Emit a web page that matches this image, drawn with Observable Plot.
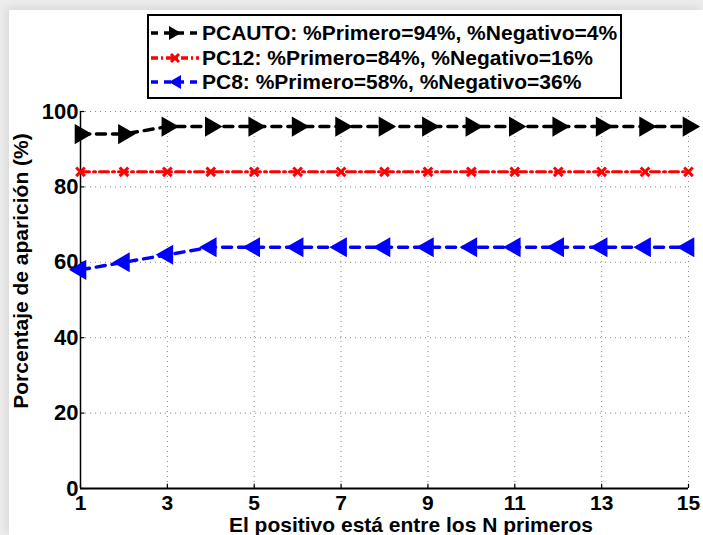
<!DOCTYPE html>
<html><head><meta charset="utf-8">
<script src="https://cdn.jsdelivr.net/npm/d3@7"></script>
<script src="https://cdn.jsdelivr.net/npm/@observablehq/plot@0.6"></script>
<style>
html,body{margin:0;padding:0;}
body{width:703px;height:535px;background:#ececec;position:relative;overflow:hidden;font-family:"Liberation Sans",Arial,sans-serif;}
#card{position:absolute;left:9px;top:10px;width:694px;height:525px;background:#fff;box-shadow:-3px -3px 8px rgba(0,0,0,0.08);}
#chart{position:absolute;left:0;top:0;}
#legend{position:absolute;left:147px;top:14px;width:471px;height:81px;border:2px solid #000;background:#fff;font-weight:bold;font-size:21px;}
.row{position:absolute;left:0;width:471px;height:24px;}
.row svg{position:absolute;left:1px;top:2px;}
.row span{position:absolute;left:53px;top:0;line-height:24px;white-space:nowrap;}
.ttl{position:absolute;font-weight:bold;font-size:21px;white-space:nowrap;line-height:24px;color:#000;}
#xt{left:411px;top:517px;line-height:16px;transform:translateX(-50%);}
#yt{left:21px;top:271px;transform:translate(-50%,-50%) rotate(-90deg);}
</style></head><body>
<div id="card"></div>
<div id="chart"></div>
<div id="legend"></div>
<div id="xt" class="ttl"></div>
<div id="yt" class="ttl"></div>
<script>
const N = [1,2,3,4,5,6,7,8,9,10,11,12,13,14,15];
const pcauto = [94,94,96,96,96,96,96,96,96,96,96,96,96,96,96];
const pc12 = [84,84,84,84,84,84,84,84,84,84,84,84,84,84,84];
const pc8 = [58,60,62,64,64,64,64,64,64,64,64,64,64,64,64];
const xTicks = [1,3,5,7,9,11,13,15];
const yTicks = [0,20,40,60,80,100];
const labels = ["PCAUTO: %Primero=94%, %Negativo=4%","PC12: %Primero=84%, %Negativo=16%","PC8: %Primero=58%, %Negativo=36%"];
const xTitle = "El positivo está entre los N primeros";
const yTitle = "Porcentaje de aparición (%)";

const d1 = N.map((n,i)=>({n, v:pcauto[i]}));
const d2 = N.map((n,i)=>({n, v:pc12[i]}));
const d3_ = N.map((n,i)=>({n, v:pc8[i]}));

const chart = Plot.plot({
  width:703, height:535,
  marginLeft:80, marginRight:15, marginTop:111, marginBottom:47,
  style:{fontFamily:"Liberation Sans, Arial, sans-serif", fontWeight:"bold", background:"transparent", overflow:"visible"},
  x:{domain:[1,15]},
  y:{domain:[0,100]},
  marks:[
    Plot.ruleX(xTicks.filter(t=>t>1), {stroke:"#888", strokeDasharray:"1,4", strokeWidth:1}),
    Plot.ruleY(yTicks.filter(t=>t>0), {stroke:"#888", strokeDasharray:"1,4", strokeWidth:1}),
    Plot.ruleX(xTicks, {y1:0, y2:1.1, stroke:"#000", strokeWidth:1.2}),
    Plot.ruleY(yTicks, {x1:1, x2:1.1, stroke:"#000", strokeWidth:1.2}),
    Plot.ruleX([1], {y1:0, y2:100, stroke:"#000", strokeWidth:1.5}),
    Plot.ruleY([0], {x1:1, x2:15, stroke:"#000", strokeWidth:2}),
    Plot.axisX({ticks:xTicks, tickSize:0, tickPadding:7, fontSize:21, label:null, tickFormat:d=>d}),
    Plot.axisY({ticks:yTicks, tickSize:0, tickPadding:2, fontSize:22, label:null}),
    Plot.line(d3_, {x:"n", y:"v", stroke:"#0000ff", strokeWidth:3.5, strokeDasharray:"9,7"}),
    Plot.dot(d3_, {x:"n", y:"v", symbol:"triangle", r:6.5, fill:"#0000ff", stroke:"#0000ff", rotate:-90}),
    Plot.line(d2, {x:"n", y:"v", stroke:"#ff0000", strokeWidth:3, strokeDasharray:"9,4,2,4"}),
    Plot.dot(d2, {x:"n", y:"v", symbol:"times", r:4, stroke:"#ff0000", strokeWidth:3}),
    Plot.line(d1, {x:"n", y:"v", stroke:"#000", strokeWidth:3.5, strokeDasharray:"9,7"}),
    Plot.dot(d1, {x:"n", y:"v", symbol:"triangle", r:6.5, fill:"#000", stroke:"#000", rotate:90})
  ]
});
document.getElementById("chart").appendChild(chart);
document.getElementById("xt").textContent = xTitle;
document.getElementById("yt").textContent = yTitle;

const leg = document.getElementById("legend");
const specs = [
  {color:"#000", dash:"7,6", mk:"right"},
  {color:"#ff0000", dash:"7,3,2,3", mk:"x"},
  {color:"#0000ff", dash:"7,6", mk:"left"}
];
labels.forEach((lab,i)=>{
  const s = specs[i];
  const row = document.createElement("div");
  row.className="row";
  row.style.top = (5 + i*24.5) + "px";
  let marker = "";
  if (s.mk==="right") marker = `<path d="M19,-7 L31,0 L19,7 Z" fill="${s.color}"/>`;
  if (s.mk==="left") marker = `<path d="M31,-7 L19,0 L31,7 Z" fill="${s.color}"/>`;
  if (s.mk==="x") marker = `<path d="M21,-4 L29,4 M21,4 L29,-4" stroke="${s.color}" stroke-width="3"/>`;
  row.innerHTML = `<svg width="50" height="20" viewBox="0 -10 50 20"><line x1="1" x2="49" y1="0" y2="0" stroke="${s.color}" stroke-width="3.5" stroke-dasharray="${s.dash}"/>${marker}</svg><span>${lab}</span>`;
  leg.appendChild(row);
});
</script>
</body></html>
